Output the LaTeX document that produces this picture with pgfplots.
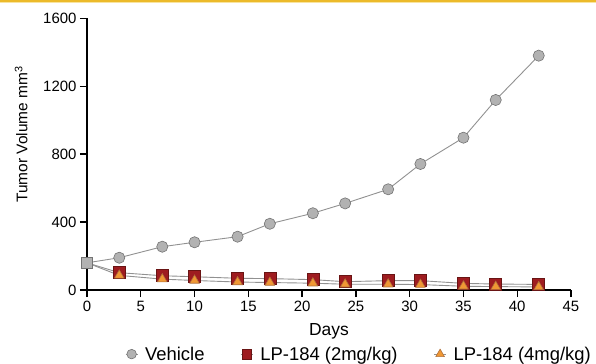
\documentclass[border=0pt]{standalone}
\usepackage{pgfplots}
\pgfplotsset{compat=1.18}
\usepackage{fontspec}
\setmainfont{Liberation Sans}
\definecolor{vfill}{RGB}{178,178,178}
\definecolor{vdraw}{RGB}{115,115,115}
\definecolor{sfill}{RGB}{158,28,32}
\definecolor{sdraw}{RGB}{105,20,20}
\definecolor{tfill}{RGB}{240,152,52}
\definecolor{tdraw}{RGB}{175,112,60}
\definecolor{lcol}{RGB}{145,145,145}
\definecolor{gold}{RGB}{236,186,42}
\definecolor{goldlight}{RGB}{248,228,160}
\begin{document}
\begin{tikzpicture}
\useasboundingbox (0,0) rectangle (596bp,364bp);
\fill[goldlight] (0,360.5bp) rectangle (596bp,362bp);
\fill[gold] (0,362bp) rectangle (596bp,364bp);
\begin{axis}[
  at={(87bp,74bp)}, anchor=south west,
  scale only axis, width=484bp, height=271.7bp,
  xmin=0, xmax=45, ymin=0, ymax=1600,
  axis lines*=left,
  axis line style={line width=1.4bp, black},
  xtick={0,5,...,45}, ytick={0,400,800,1200,1600},
  tick style={line width=1.4bp, black},
  tick align=outside, major tick length=7bp,
  /pgf/number format/assume math mode=true,
  /pgf/number format/set thousands separator={},
  ticklabel style={font=\fontsize{15}{15}\selectfont},
  xticklabel style={yshift=-1bp},
  clip=false,
  xlabel={Days},
  ylabel={Tumor Volume mm\textsuperscript{3}},
  every axis x label/.style={at={(axis description cs:0.5,-0.151)}, anchor=center, font=\fontsize{17.5}{17.5}\selectfont},
  every axis y label/.style={at={(axis description cs:-0.136,0.572)}, anchor=center, rotate=90, font=\fontsize{15.5}{15.5}\selectfont},
  legend columns=3,
  legend style={at={(axis description cs:0.562,-0.236)}, anchor=center, draw=none, fill=none,
    font=\fontsize{18.5}{18.5}\selectfont,
    /tikz/every odd column/.append style={column sep=5bp},
    /tikz/every even column/.append style={column sep=34bp}},
  legend cell align=left,
  legend image code/.code={\draw[#1, mark repeat=2, mark phase=2] plot coordinates {(-6bp,0) (0bp,0) (6bp,0)};},
]
\addlegendimage{lcol, line width=0.9bp, mark=*, mark size=4.8bp, mark options={fill=vfill, draw=vdraw, line width=0.6bp}}
\addlegendentry{Vehicle}
\addlegendimage{lcol, line width=0.9bp, mark=square*, mark size=4.8bp, mark options={fill=sfill, draw=sdraw, line width=0.6bp}}
\addlegendentry{LP-184 (2mg/kg)}
\addlegendimage{lcol, line width=0.9bp, mark=triangle*, mark size=5bp, mark options={fill=tfill, draw=tdraw, line width=0.6bp}}
\addlegendentry{LP-184 (4mg/kg)}
\addplot[forget plot, lcol, line width=0.9bp, mark=square*, mark size=6bp, mark indices={2,...,13},
  mark options={fill=sfill, draw=sdraw, line width=0.6bp}]
  coordinates {(0,160) (3,102) (7,84) (10,78) (14,69) (17,67) (21,61) (24,49) (28,55) (31,55) (35,39) (38,35) (42,33)};
\addplot[forget plot, lcol, line width=0.9bp, mark=triangle*, mark size=5.5bp, mark indices={2,...,13},
  mark options={fill=tfill, draw=tdraw, line width=0.6bp}]
  coordinates {(0,160) (3,86) (7,64) (10,56) (14,47) (17,44) (21,40) (24,34) (28,34) (31,32) (35,22) (38,20) (42,18)};
\addplot[forget plot, lcol, line width=0.9bp, mark=*, mark size=5.6bp, mark indices={2,...,13},
  mark options={fill=vfill, draw=vdraw, line width=0.6bp}]
  coordinates {(0,160) (3,190) (7,255) (10,281) (14,314) (17,390) (21,452) (24,510) (28,593) (31,742) (35,897) (38,1119) (42,1380)};
\addplot[forget plot, only marks, mark=square*, mark size=5.6bp, mark options={fill=vfill, draw=vdraw, line width=0.6bp}]
  coordinates {(0,160)};
\end{axis}
\end{tikzpicture}
\end{document}
